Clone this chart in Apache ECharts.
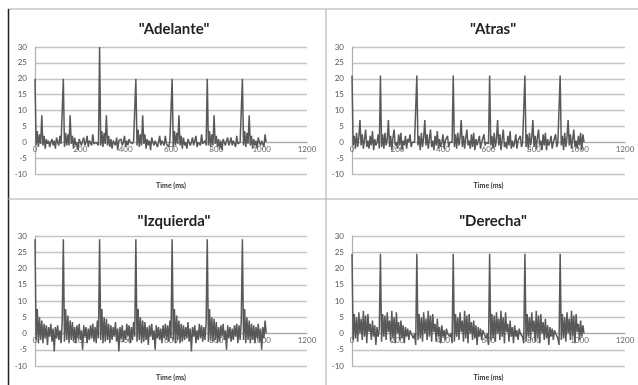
<!DOCTYPE html>
<html>
<head>
<meta charset="utf-8">
<script src="https://cdn.jsdelivr.net/npm/echarts@6/dist/echarts.min.js"></script>
<style>
  html, body { margin: 0; padding: 0; background: #fff; }
  #main { width: 638px; height: 385px; }
</style>
</head>
<body>
<div id="main"></div>
<script>
// titulos de cada panel
const panelTitles = ['"Adelante"', '"Atras"', '"Izquierda"', '"Derecha"']
const xTicks = [0, 200, 400, 600, 800, 1000, 1200]
const yTicks = [-10, -5, 0, 5, 10, 15, 20, 25, 30]
const sampleMs = 5 // una muestra cada 5 ms

const adelante = [
  20, -1, 3.5, -1.5, 2.5, -0.5, 8.5, -1, 2, -2, 1, -0.5, 0.5, -1.5, 0, 1, -1, 0.5, -2, 1.5, 0, -1, 2, -0.5, 0,
  20, -1.5, 3, -1, 2.5, -1, 8.5, -0.5, 2, -2, 1.5, -1, 0, -2.5, 1, 0, -1, 0.5, 1.5, -1, 0, 2, -1.5, 0.5, 0, -1, 2.5, -0.5, 0, 0, 0.5, -1,
  30, -1, 3.5, -1.5, 3, -0.5, 8.5, -1, 2, -1.5, 1, -2, 0.5, 0, -1, 1.5, -2.5, 0.5, 0, 1, -1, 0, 2, -1.5, 0.5, -1, 1, 0, 0, -0.5, 0.5, 0,
  20, -1, 4, -1.5, 2.5, -1, 8.5, -0.5, 2.5, -2, 1, -1, 0.5, -2.5, 1.5, 0, -1, 0.5, 1, -1.5, 0, 2, -1, 0.5, 0, -1, 2, -0.5, 0, -1.5, 0.5, 0,
  20, -1.5, 3.5, -1, 3, -0.5, 8.5, -1, 2, -2, 1.5, -1, 0, -2, 1, 0.5, -1, 0, 1.5, -1, 0.5, 2, -1.5, 0, 0, -1, 2.5, -0.5, 0, 0.5, -1,
  20, -1, 3.5, -1.5, 2.5, -1, 8.5, -0.5, 2, -1.5, 1, -2, 0.5, -2.5, 1, 0, -1, 0.5, 1.5, -1, 0, 1.5, -1, 0.5, 0, -1.5, 2, -0.5, 0, 0, 0,
  20, -1, 3.5, -1.5, 3, -0.5, 8.5, -1, 2, -2, 1, -1, 0.5, -2, 1.5, 0, -1, 0.5, 1, -1.5, 2.5, 0
]

const atras = [
  21, -1, 2, -2, 3, -1.5, 1.5, 7, -1, 2.5, -2, 1, 4, -1.5, 0.5, -2, 2, -1, 3.5, -2.5, 1, -1, 0, 2.5, -2,
  21, -1.5, 2.5, -2, 3, -1, 1, 7, -1.5, 2, -2.5, 1.5, 4, -1, 0, -2, 2.5, -1, 3, -2.5, 0.5, -1, 2, -2, 1, 0, 2.5, -1.5, 0, 0, 0, -0.5,
  21, -1, 2, -2.5, 3, -1.5, 1.5, 7, -1, 2.5, -2, 1, 4, -1.5, 0.5, -2.5, 2, -1, 3.5, -2, 1, -1.5, 0, 2.5, -2, 0.5, 0, 2, -1.5, 0, 0, 0,
  21, -1.5, 2.5, -2, 3, -1, 1.5, 7, -1.5, 2, -2, 1.5, 4, -1, 0.5, -2, 2.5, -1.5, 3, -2.5, 1, -1, 0.5, 2, -2, 0, 0.5, 2.5, -1, 0, 0, -0.5,
  21, -1, 2, -2, 3, -1.5, 1, 7, -1, 2.5, -2.5, 1, 4, -1.5, 0, -2, 2, -1, 3.5, -2, 0.5, -1.5, 0, 2.5, -2, 0.5, 0, 2, -1.5, 0, 0,
  21, -1.5, 2.5, -2, 3, -1, 1.5, 7, -1.5, 2, -2, 1.5, 4, -1, 0.5, -2.5, 2.5, -1, 3, -2.5, 1, -1, 0, 2, -2, 0, 0.5, 2.5, -1.5, 0, 0,
  21, -1, 2, -2.5, 3, -1.5, 1.5, 7, -1, 2.5, -2, 1, 4, -1.5, 0.5, -2, 2, -1, 3, -2.5, 2.5, 0
]

const izquierda = [
  29, -2, 7.5, -3, 5, -2, 4, -3, 3, -1.5, 2.5, -3.5, 2, -1, 3, -2.5, 1.5, -5.5, 2, -1.5, 2.5, -2, 1, -3, 3.5,
  29, -2.5, 7.5, -2, 5.5, -3, 4, -2, 3.5, -2.5, 2, -3, 2.5, -1.5, 3, -2, 1, -5, 2.5, -1, 2, -3, 1.5, -2, 2.5, -1.5, 3, -2.5, 2, -3, 4, -1.5,
  29, -2, 7.5, -3, 5, -2.5, 4.5, -2, 3, -3, 2.5, -2, 2, -1, 3.5, -2.5, 1.5, -5.5, 2, -1.5, 2.5, -2.5, 1, -2, 3, -1, 2.5, -3, 2, -2, 3.5, -1,
  29, -2.5, 7.5, -2, 5, -3, 4, -2.5, 3.5, -2, 2, -3.5, 2.5, -1, 3, -2, 1, -5, 2.5, -1.5, 2, -2, 1.5, -3, 2.5, -1.5, 3, -2, 2.5, -2.5, 4, -1.5,
  29, -2, 7.5, -3, 5.5, -2, 4, -3, 3, -2.5, 2.5, -2, 2, -1.5, 3.5, -2.5, 1.5, -5.5, 2, -1, 2.5, -3, 1, -2, 3, -1.5, 2.5, -2.5, 2, -2, 3.5,
  29, -2.5, 7.5, -2, 5, -2.5, 4.5, -2, 3.5, -3, 2, -2.5, 2.5, -1, 3, -2, 1, -5, 2.5, -1.5, 2, -2.5, 1.5, -2, 2.5, -1, 3, -3, 2.5, -2, 4,
  29, -2, 7.5, -3, 5, -2, 4, -3, 3, -2, 2.5, -3, 2, -1.5, 3, -2.5, 1.5, -5, 2, -1.5, 4, 0
]

const derecha = [
  24.5, -2, 6, -1.5, 5, -2.5, 6.5, 0, 4.5, -2, 7, -1, 5.5, -3, 6, 0.5, 3, -2, 4, -1, 2.5, -3.5, 2, -1, 1.5,
  24.5, -2.5, 6, -1, 5.5, -2, 6.5, 0.5, 4, -2.5, 7, -1.5, 5, -3, 6.5, 0, 3.5, -2, 4, -1.5, 2.5, -3, 2, -1, 1.5, -2, 1, 0, 0.5, -1.5, 0, -3.5,
  24.5, -2, 6, -1.5, 5, -2.5, 6.5, 0, 4.5, -2, 7, -1, 5.5, -2.5, 6, 0.5, 3, -2.5, 4.5, -1, 2, -3, 2.5, -1, 1, -2, 1.5, 0, 0.5, -1, 0, -3,
  24.5, -2.5, 6, -1, 5, -2, 6.5, 0.5, 4, -2.5, 7, -1.5, 5.5, -3, 6, 0, 3.5, -2, 4, -1.5, 2.5, -3.5, 2, -1, 1.5, -2, 1, 0, 0.5, -1.5, 0, -3.5,
  24.5, -2, 6, -1.5, 5.5, -2.5, 6.5, 0, 4.5, -2, 7, -1, 5, -3, 6.5, 0.5, 3, -2.5, 4, -1, 2, -3, 2.5, -1, 1, -2, 1.5, 0, 0.5, -1, -3,
  24.5, -2.5, 6, -1, 5, -2, 6.5, 0.5, 4, -2.5, 7, -1.5, 5.5, -3, 6, 0, 3.5, -2, 4.5, -1.5, 2.5, -3.5, 2, -1, 1.5, -2, 1, 0, 0.5, -1.5, -3.5,
  24.5, -2, 6, -1.5, 5, -2.5, 6.5, 0, 4.5, -2, 7, -1, 5.5, -3, 6, 0.5, 3, -2, 4, -1, 2.5, 0
]

const signals = [adelante, atras, izquierda, derecha]

// posiciones de los 4 paneles
const grids = [
  { left: 35, right: 331, top: 47, height: 127 },
  { left: 352, right: 13, top: 47, height: 127 },
  { left: 35, right: 331, top: 236, height: 130 },
  { left: 352, right: 13, top: 236, height: 130 }
]

const toPairs = arr => arr.map((v, i) => [i * sampleMs, v])

// el eje x cruza en y = 0: se desplaza desde el borde inferior
const zeroOffset = g => -g.height * (0 - yTicks[0]) / (yTicks[yTicks.length - 1] - yTicks[0])

const chart = echarts.init(document.getElementById('main'))

const option = {
  backgroundColor: '#fff',
  animation: false,
  title: grids.map((g, i) => ({
    text: panelTitles[i],
    left: i % 2 === 0 ? 169 : 488,
    textAlign: 'center',
    top: i < 2 ? 17 : 209,
    textStyle: {
      fontFamily: 'Lato',
      fontWeight: 'bold',
      fontSize: 15,
      color: '#222'
    }
  })),
  grid: grids,
  xAxis: grids.map((g, i) => ({
    type: 'value',
    gridIndex: i,
    min: xTicks[0],
    max: xTicks[xTicks.length - 1],
    interval: 200,
    offset: zeroOffset(g),
    name: 'Time (ms)',
    nameLocation: 'middle',
    nameGap: i < 2 ? 40 : 41,
    nameTextStyle: { fontSize: 7, fontWeight: 'bold', color: '#333', fontFamily: 'Lato' },
    axisLine: { onZero: false, lineStyle: { color: '#a8a8a8', width: 1.2 } },
    axisTick: { show: false },
    splitLine: { show: false },
    axisLabel: { fontSize: 8, color: '#666', margin: 3, fontFamily: 'Lato', formatter: v => String(v) }
  })),
  yAxis: grids.map((g, i) => ({
    type: 'value',
    gridIndex: i,
    min: yTicks[0],
    max: yTicks[yTicks.length - 1],
    interval: 5,
    axisLine: { show: true, onZero: false, lineStyle: { color: '#b0b0b0', width: 1.2 } },
    axisTick: { show: false },
    splitLine: { lineStyle: { color: '#c4c4c4', width: 1.3 } },
    axisLabel: { fontSize: 8, color: '#555', margin: 8, fontFamily: 'Lato' }
  })),
  series: signals.map((s, i) => ({
    type: 'line',
    xAxisIndex: i,
    yAxisIndex: i,
    data: toPairs(s),
    showSymbol: false,
    lineStyle: { color: '#595959', width: 1.5 }
  })),
  // marcos de los paneles
  graphic: [
    { type: 'line', shape: { x1: 8, y1: 9, x2: 638, y2: 9 }, style: { stroke: '#aaa', lineWidth: 1 } },
    { type: 'line', shape: { x1: 8.5, y1: 9, x2: 8.5, y2: 385 }, style: { stroke: '#222', lineWidth: 1.5 } },
    { type: 'line', shape: { x1: 326, y1: 9, x2: 326, y2: 385 }, style: { stroke: '#aaa', lineWidth: 1 } },
    { type: 'line', shape: { x1: 8, y1: 199, x2: 638, y2: 199 }, style: { stroke: '#aaa', lineWidth: 1 } }
  ]
}

chart.setOption(option)
</script>
</body>
</html>
